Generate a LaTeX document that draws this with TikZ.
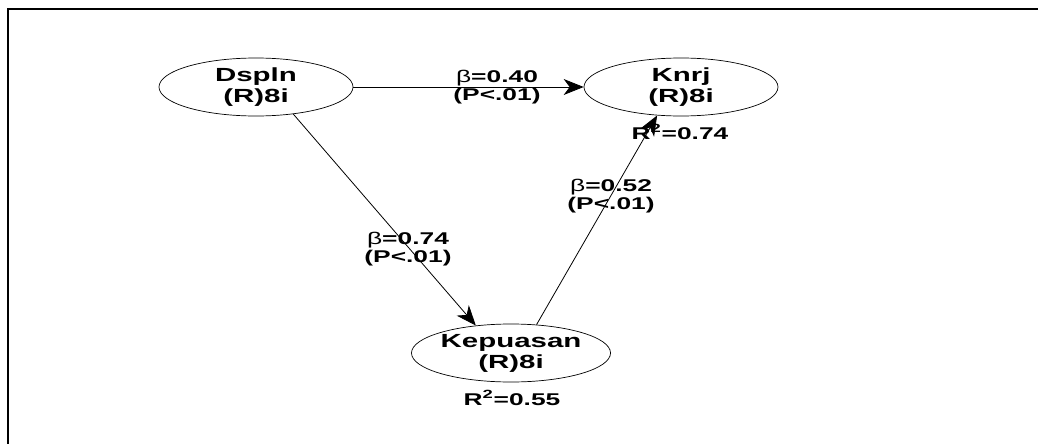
\documentclass[tikz,border=0pt]{standalone}
\usepackage{fontspec}
\setmainfont{Liberation Sans}
\usepackage{graphicx}
\usetikzlibrary{shapes.geometric,arrows.meta}
\newcommand{\wide}[1]{\scalebox{1.55}[1]{#1}}
\begin{document}
\begin{tikzpicture}[x=1pt,y=-1pt,
        latent/.style={draw, ellipse, line width=0.7pt, minimum width=194pt, minimum height=58pt,
            inner sep=0pt, align=center, font=\fontsize{19}{21}\selectfont\bfseries},
        coef/.style={align=center, inner sep=0pt, font=\fontsize{17}{18.5}\selectfont\bfseries},
        effect/.style={-{Stealth[length=20pt,width=16pt,inset=6pt]}, line width=0.8pt}]
        \useasboundingbox (0,0) rectangle (1038,444);
        \draw[line width=2pt] (1038,9) -- (8,9) -- (8,444);
        % constructs
        \node[latent] (Dspln) at (256,87) {\wide{Dspln}\\\wide{(R)8i}};
        \node[latent] (Knrj) at (681,87) {\wide{Knrj}\\\wide{(R)8i}};
        \node[latent] (Kepuasan) at (511,353) {\wide{Kepuasan}\\\wide{(R)8i}};
        % coefficients
        \node[coef] (b1) at (497,87) {\wide{{\mdseries β}=0.40}\\\wide{(P<.01)}};
        \node[coef] (b2) at (408,249) {\wide{{\mdseries β}=0.74}\\\wide{(P<.01)}};
        \node[coef] (b3) at (611,196) {\wide{{\mdseries β}=0.52}\\\wide{(P<.01)}};
        \node[coef] (r2knrj) at (680,132) {\wide{R\textsuperscript{2}=0.74}};
        \node[coef] (r2kep) at (512,398) {\wide{R\textsuperscript{2}=0.55}};
        % paths
        \draw[effect] (Dspln.east) -- (Knrj.west);
        \draw[effect] (Dspln.-36) -- (Kepuasan.142);
        \draw[effect] (Kepuasan.48) -- (Knrj.-130);
    \end{tikzpicture}
\end{document}
